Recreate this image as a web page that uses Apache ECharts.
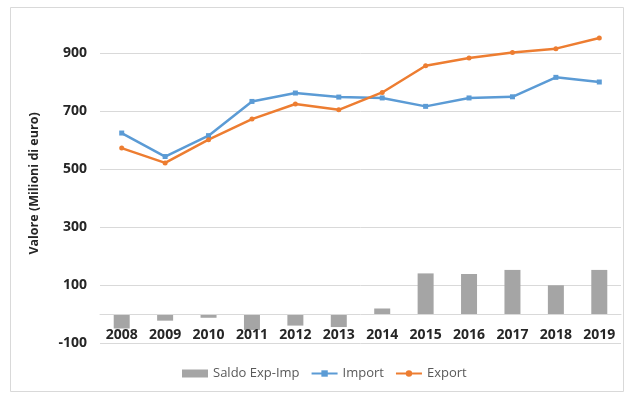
<!DOCTYPE html>
<html>
<head>
<meta charset="utf-8">
<script src="https://cdn.jsdelivr.net/npm/echarts@6/dist/echarts.min.js"></script>
<style>
html,body{margin:0;padding:0;background:#fff;}
#chart{width:628px;height:394px;}
</style>
</head>
<body>
<div id="chart"></div>
<script>
const categories = ['2008','2009','2010','2011','2012','2013','2014','2015','2016','2017','2018','2019'];
const saldo = [-50, -23, -13, -55, -40, -45, 19, 140, 138, 152, 99, 152];
const importVals = [624, 543, 615, 733, 762, 748, 745, 716, 745, 749, 816, 800];
const exportVals = [572, 521, 601, 672, 724, 704, 764, 856, 883, 902, 915, 952];
const yTicks = [-100, 100, 300, 500, 700, 900];

const FONT = 'Open Sans';
const chart = echarts.init(document.getElementById('chart'), null, {renderer: 'canvas'});
chart.setOption({
  backgroundColor: '#fff',
  animation: false,
  graphic: [{
    type: 'rect',
    shape: {x: 10.5, y: 7.5, width: 613, height: 384},
    style: {fill: 'none', stroke: '#d9d9d9', lineWidth: 1},
    silent: true, z: -1
  }],
  grid: {left: 100, right: 7, top: 24, bottom: 51, containLabel: false},
  legend: {
    left: 177, top: 362,
    itemGap: 11,
    itemWidth: 26, itemHeight: 8,
    textStyle: {fontFamily: FONT, fontSize: 13, color: '#595959'},
    data: [
      {name: 'Saldo Exp-Imp', icon: 'rect', itemStyle: {color: '#a5a5a5'}},
      {name: 'Import'},
      {name: 'Export'}
    ]
  },
  xAxis: {
    type: 'category',
    data: categories,
    z: 10,
    offset: -29,
    axisLine: {onZero: false, lineStyle: {color: '#d9d9d9', width: 1}},
    axisTick: {show: false},
    axisLabel: {fontFamily: FONT, fontSize: 14, fontWeight: 'bold', color: '#262626', margin: 14}
  },
  yAxis: {
    type: 'value',
    min: -100, max: 1000, interval: 200,
    name: 'Valore (Milioni di euro)',
    nameLocation: 'middle',
    nameGap: 59,
    nameTextStyle: {fontFamily: FONT, fontSize: 12.5, fontWeight: 'bold', color: '#262626'},
    axisLine: {show: false},
    axisTick: {show: false},
    axisLabel: {
      fontFamily: FONT, fontSize: 14, fontWeight: 'bold', color: '#262626', margin: 13,
      formatter: function (v) { return yTicks.indexOf(v) >= 0 ? String(v) : ''; }
    },
    splitLine: {lineStyle: {color: ['#d9d9d9','#d9d9d9','#d9d9d9','#d9d9d9','#d9d9d9','#d9d9d9','rgba(0,0,0,0)'], width: 1}}
  },
  series: [
    {
      name: 'Saldo Exp-Imp', type: 'bar', data: saldo,
      barWidth: 16,
      itemStyle: {color: '#a5a5a5'}
    },
    {
      name: 'Import', type: 'line', data: importVals,
      symbol: 'rect', symbolSize: 5,
      lineStyle: {color: '#5b9bd5', width: 2.5},
      itemStyle: {color: '#5b9bd5'}
    },
    {
      name: 'Export', type: 'line', data: exportVals,
      symbol: 'circle', symbolSize: 5,
      lineStyle: {color: '#ed7d31', width: 2.5},
      itemStyle: {color: '#ed7d31'}
    }
  ]
});
</script>
</body>
</html>
